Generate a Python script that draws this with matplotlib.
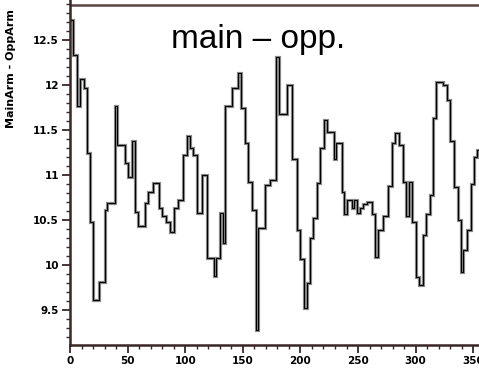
import matplotlib
matplotlib.use("Agg")
import matplotlib.pyplot as plt
from matplotlib.ticker import MultipleLocator

# step edges (sample index) and values of MainArm - OppArm
edges = [0, 2.5, 6, 9, 12, 15, 17.5, 20.3, 25, 30, 32, 39, 41, 47.7, 50,
         54, 56.5, 59.3, 65, 68, 72, 77, 80, 83.5, 87, 90, 94, 98, 101.8,
         103.8, 107.1, 110, 114.9, 118.6, 124.9, 126.9, 130.5, 132.7, 134.5,
         140.3, 146, 148, 151.9, 154.8, 157.7, 161.5, 163.5, 169.3, 173.6,
         179, 181.5, 188, 193, 196.8, 199.7, 203, 205.5, 208.3, 211.2, 214.1,
         217, 220.8, 223, 229, 231, 235.8, 238, 240.5, 244.5, 246.8, 248.8,
         251.7, 254.6, 257.5, 261.9, 264.8, 267.7, 271.4, 276.3, 279.2,
         282.1, 285.9, 288.8, 292, 294.5, 297.2, 300.3, 303.2, 306.1, 309,
         312.5, 314.8, 317.7, 324.1, 327, 329.9, 333.3, 337.1, 339.5, 341.5,
         344.9, 347.8, 350.7, 353, 356]
values = [12.72, 12.33, 11.76, 12.06, 11.96, 11.24, 10.48, 9.61, 9.81, 10.61,
          10.69, 11.76, 11.33, 11.13, 10.98, 11.37, 10.59, 10.43, 10.69, 10.81,
          10.91, 10.63, 10.54, 10.48, 10.36, 10.63, 10.72, 11.22, 11.43, 11.30,
          11.22, 10.57, 11.00, 10.08, 9.88, 10.08, 10.57, 10.24, 11.76, 11.96,
          12.13, 11.74, 11.35, 10.92, 10.61, 9.28, 10.41, 10.89, 10.94, 12.31,
          11.67, 12.00, 11.17, 10.39, 10.06, 9.52, 9.80, 10.30, 10.52, 10.91,
          11.30, 11.61, 11.48, 11.17, 11.35, 10.81, 10.56, 10.72, 10.63, 10.72,
          10.57, 10.63, 10.67, 10.70, 10.56, 10.09, 10.39, 10.54, 10.87, 11.35,
          11.46, 11.33, 10.92, 10.54, 10.92, 10.48, 9.87, 9.78, 10.33, 10.56,
          10.78, 11.63, 12.03, 12.00, 11.83, 11.37, 10.86, 10.50, 9.92, 10.17,
          10.39, 10.90, 11.20, 11.28]

xticks = [0, 50, 100, 150, 200, 250, 300, 350]
yticks = [9.5, 10, 10.5, 11, 11.5, 12, 12.5]
ytick_labels = ["9.5", "10", "10.5", "11", "11.5", "12", "12.5"]
top_level = 12.89

spine_col = "#3a2626"

fig = plt.figure(figsize=(4.79, 3.8), dpi=100)
ax = fig.add_axes([70 / 479, 35 / 380, 1 - 70 / 479, 1 - 35 / 380])

ax.stairs(values, edges, baseline=None, color="#8c8c8c", lw=2.3)
ax.stairs(values, edges, baseline=None, color="black", lw=0.8)
ax.axhline(top_level, color="#5a4444", lw=1.8)

ax.set_xlim(0, 355)
ax.set_ylim(9.11, 12.94)

ax.set_xticks(xticks)
ax.set_xticklabels([str(t) for t in xticks])
ax.set_yticks(yticks)
ax.set_yticklabels(ytick_labels)
ax.xaxis.set_minor_locator(MultipleLocator(10))
ax.yaxis.set_minor_locator(MultipleLocator(0.1))

for s in ["top", "right"]:
    ax.spines[s].set_visible(False)
for s in ["left", "bottom"]:
    ax.spines[s].set_color(spine_col)
    ax.spines[s].set_linewidth(1.8)

ax.tick_params(which="major", direction="out", length=6, width=1.3,
               color=spine_col, labelsize=7.5, pad=2)
ax.tick_params(which="minor", direction="out", length=3, width=1.0,
               color=spine_col)
for lab in ax.get_xticklabels() + ax.get_yticklabels():
    lab.set_fontweight("bold")
    lab.set_family("DejaVu Sans")

ax.set_ylabel("MainArm - OppArm", fontsize=8, fontweight="bold",
              family="DejaVu Sans")
ax.yaxis.set_label_coords(-0.132, 0.80)

ax.text(0.46, 0.885, "main \u2013 opp.", transform=ax.transAxes,
        ha="center", va="center", fontsize=24, family="Liberation Sans")

fig.savefig("out.png", dpi=100)
